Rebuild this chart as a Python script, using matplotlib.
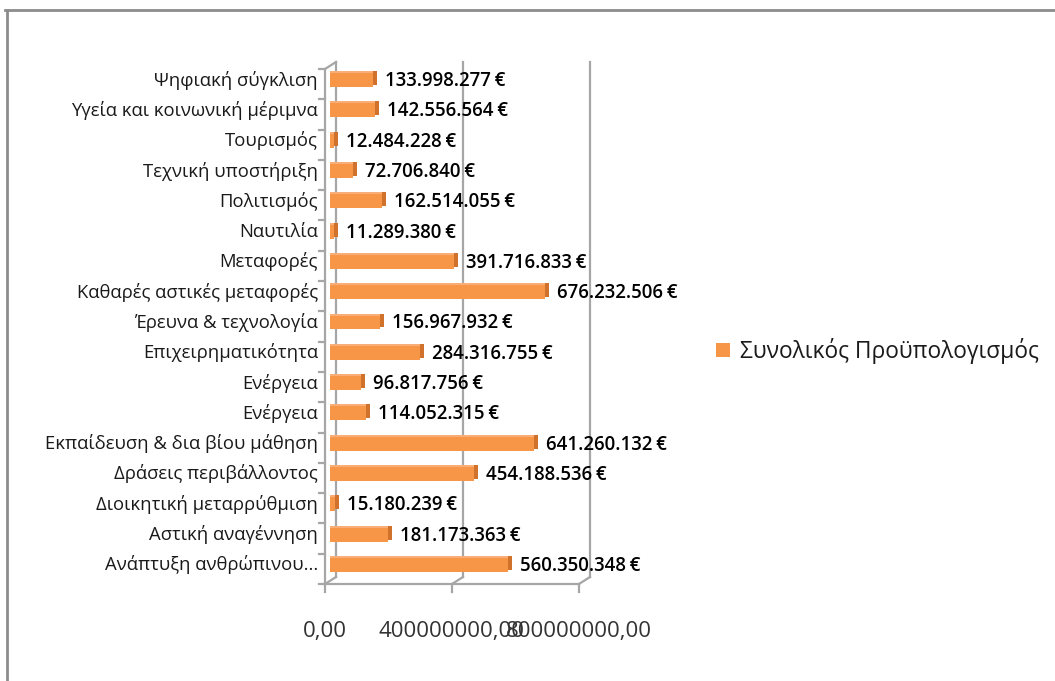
import matplotlib
matplotlib.use("Agg")
import matplotlib.pyplot as plt
import matplotlib.transforms as mtransforms
from matplotlib.lines import Line2D

plt.rcParams['font.family'] = ['Open Sans', 'DejaVu Sans']

categories = [
    "Ανάπτυξη ανθρώπινου...",
    "Αστική αναγέννηση",
    "Διοικητική μεταρρύθμιση",
    "Δράσεις περιβάλλοντος",
    "Εκπαίδευση & δια βίου μάθηση",
    "Ενέργεια",
    "Ενέργεια",
    "Επιχειρηματικότητα",
    "Έρευνα & τεχνολογία",
    "Καθαρές αστικές μεταφορές",
    "Μεταφορές",
    "Ναυτιλία",
    "Πολιτισμός",
    "Τεχνική υποστήριξη",
    "Τουρισμός",
    "Υγεία και κοινωνική μέριμνα",
    "Ψηφιακή σύγκλιση",
]
values = [
    560350348, 181173363, 15180239, 454188536, 641260132, 114052315,
    96817756, 284316755, 156967932, 676232506, 391716833, 11289380,
    162514055, 72706840, 12484228, 142556564, 133998277,
]
series_name = "Συνολικός Προϋπολογισμός"
xticks = [0, 400000000, 800000000]
xtick_labels = ["0,00", "400000000,00", "800000000,00"]

W, H = 1055, 681
fig = plt.figure(figsize=(W / 100, H / 100), dpi=100)
fig.patch.set_facecolor("white")

x0, x1 = 330, 584
ytop, ybot = 65, 580
ax = fig.add_axes([x0 / W, 1 - ybot / H, (x1 - x0) / W, (ybot - ytop) / H])
ax.set_xlim(0, 800000000)
n = len(categories)
ax.set_ylim(-0.5, n - 0.5)
ax.axis("off")
ax.patch.set_alpha(0)

def off(dx, dy):
    return ax.transData + mtransforms.ScaledTranslation(dx / 100, -dy / 100, fig.dpi_scale_trans)

ident = mtransforms.IdentityTransform()
back = off(6, -3)
front = off(-5, 4)
gc = "#a6a6a6"
lw = 1.6

def line(xs, ys, tr, z=1):
    ax.add_line(Line2D(xs, ys, color=gc, lw=lw, transform=tr, zorder=z, clip_on=False))

for xv in xticks:
    line([xv, xv], [-0.5, n - 0.5], back)
line([0, 0], [-0.5, n - 0.5], front)
line([0, xticks[-1]], [-0.5, -0.5], front)

def connect(xv, yv):
    p_b = back.transform((xv, yv))
    p_f = front.transform((xv, yv))
    line([p_b[0], p_f[0]], [p_b[1], p_f[1]], ident)

for xv in xticks:
    connect(xv, -0.5)
connect(0, n - 0.5)

for xv in xticks:
    p = front.transform((xv, -0.5))
    line([p[0], p[0]], [p[1], p[1] - 8], ident)
for k in range(n + 1):
    p = front.transform((0, k - 0.5))
    line([p[0] - 6, p[0]], [p[1], p[1]], ident)

ypos = list(range(n))
bh = 0.46
ax.barh(ypos, values, height=bh, color="#d0722c", transform=off(4, -2), zorder=3)
ax.barh(ypos, values, height=bh, color="#f9ae78", transform=off(0, -2), zorder=3)
bars = ax.barh(ypos, values, height=bh, color="#f79646", zorder=4, label=series_name)

for y, v in zip(ypos, values):
    s = f"{v:,}".replace(",", ".") + "\u2009€"
    ax.annotate(s, (v, y), xytext=(12 / 100 * 72, -1 / 100 * 72), textcoords="offset points",
                ha="left", va="center", fontsize=13.4, fontweight="semibold", color="#000000",
                zorder=5)

for y, c in zip(ypos, categories):
    ax.annotate(c, (0, y), xytext=(-12 / 100 * 72, 0), textcoords="offset points",
                ha="right", va="center", fontsize=13.3, color="#1a1a1a")

for xv, lab in zip(xticks, xtick_labels):
    p = front.transform((xv, -0.5))
    fig.text(p[0] / W, (p[1] - 47) / H, lab, ha="center", va="center",
             fontsize=16, color="#333333")

fig.legend([bars], [series_name], loc="center left",
           bbox_to_anchor=(716 / W, 1 - 351 / H), frameon=False,
           handlelength=0.6, handleheight=0.6, handletextpad=0.45,
           fontsize=16.4, labelcolor="#1a1a1a", borderpad=0, borderaxespad=0)

fig.add_artist(Line2D([5 / W, 1], [1 - 9.5 / H, 1 - 9.5 / H], color="#8c8c8c", lw=2,
                      transform=fig.transFigure))
fig.add_artist(Line2D([6.5 / W, 6.5 / W], [1 - 9.5 / H, 0], color="#8c8c8c", lw=2,
                      transform=fig.transFigure))

fig.savefig("out.png", dpi=100)
